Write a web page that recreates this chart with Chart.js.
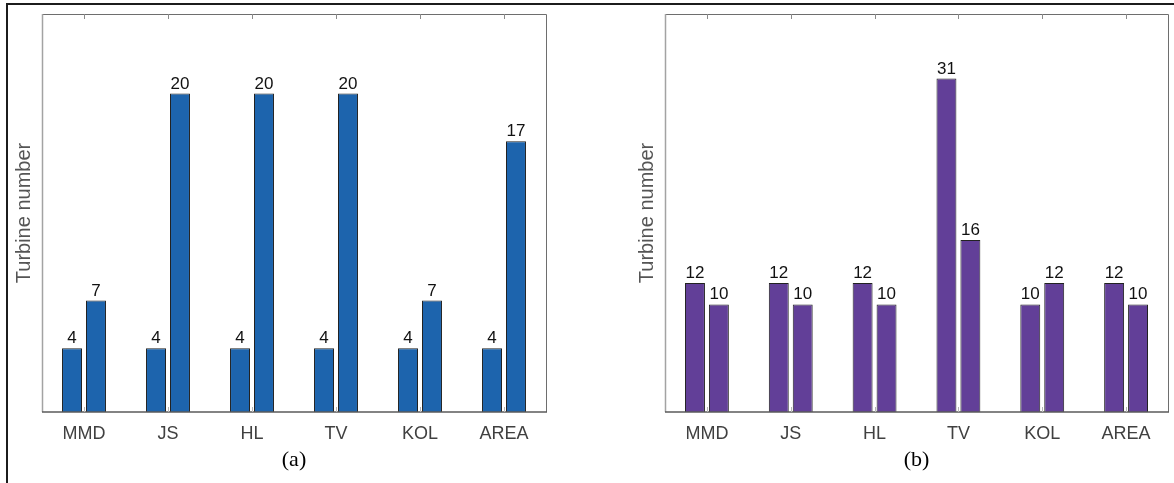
<!DOCTYPE html>
<html>
<head>
<meta charset="utf-8">
<script src="https://cdn.jsdelivr.net/npm/chart.js@4/dist/chart.umd.min.js"></script>
<style>
  html, body { margin: 0; padding: 0; background: #fff; }
  #wrap { position: relative; width: 1174px; height: 483px; overflow: hidden; background: #fff; }
  #frame { position: absolute; left: 6px; top: 3px; width: 1200px; height: 600px;
           border-left: 2px solid #1c1c1c; border-top: 2px solid #1c1c1c; }
  .panel { position: absolute; top: 0; height: 483px; }
  #pa { left: 0; width: 600px; }
  #pb { left: 600px; width: 574px; }
</style>
</head>
<body>
<div id="wrap">
  <div id="frame"></div>
  <div class="panel" id="pa"><canvas id="ca"></canvas></div>
  <div class="panel" id="pb"><canvas id="cb"></canvas></div>
</div>
<script>
// Divergence measures compared in both panels
const categories = ['MMD', 'JS', 'HL', 'TV', 'KOL', 'AREA'];

// Panel (a): turbine counts
const aFirst  = [4, 4, 4, 4, 4, 4];
const aSecond = [7, 20, 20, 20, 7, 17];

// Panel (b): turbine counts
const bFirst  = [12, 12, 12, 31, 10, 12];
const bSecond = [10, 10, 10, 16, 12, 10];

const yTitle = 'Turbine number';

// Box frame, category ticks and value labels drawn on top of the bars
const framePlugin = {
  id: 'frame',
  afterDatasetsDraw(chart) {
    const { ctx, chartArea: a, scales } = chart;
    ctx.save();
    // value labels
    ctx.font = '17px "Liberation Sans", Arial, sans-serif';
    ctx.fillStyle = '#111';
    ctx.textAlign = 'center';
    ctx.textBaseline = 'alphabetic';
    chart.data.datasets.forEach((ds, i) => {
      chart.getDatasetMeta(i).data.forEach((bar, j) => {
        ctx.fillText(String(ds.data[j]), bar.x, bar.y - 5);
      });
    });
    // top and right edges
    ctx.strokeStyle = '#6e6e6e';
    ctx.lineWidth = 1;
    ctx.beginPath();
    ctx.moveTo(a.left, a.top + 0.5); ctx.lineTo(a.right + 0.5, a.top + 0.5);
    ctx.lineTo(a.right + 0.5, a.bottom);
    ctx.stroke();
    // left edge
    ctx.strokeStyle = '#a3a3a3';
    ctx.lineWidth = 1.5;
    ctx.beginPath();
    ctx.moveTo(a.left + 0.5, a.top); ctx.lineTo(a.left + 0.5, a.bottom);
    ctx.stroke();
    // bottom edge
    ctx.strokeStyle = '#5a5a5a';
    ctx.lineWidth = 1.6;
    ctx.beginPath();
    ctx.moveTo(a.left, a.bottom); ctx.lineTo(a.right + 1, a.bottom);
    ctx.stroke();
    // category ticks (top pointing down, bottom pointing up)
    const xs = scales.x;
    ctx.lineWidth = 1;
    categories.forEach((c, i) => {
      const x = Math.round(xs.getPixelForTick(i)) + 0.5;
      ctx.strokeStyle = '#8a8a8a';
      ctx.beginPath(); ctx.moveTo(x, a.top); ctx.lineTo(x, a.top + 5); ctx.stroke();
      ctx.strokeStyle = '#b5b5b5';
      ctx.beginPath(); ctx.moveTo(x, a.bottom); ctx.lineTo(x, a.bottom - 5); ctx.stroke();
    });
    ctx.restore();
  }
};

function makeChart(id, first, second, color, yMax, left, right, label) {
  const canvas = document.getElementById(id);
  const w = canvas.parentNode.clientWidth;
  return new Chart(canvas, {
    type: 'bar',
    data: {
      labels: categories,
      datasets: [
        { data: first,  backgroundColor: color, borderColor: '#222', borderWidth: 1,
          categoryPercentage: 0.571, barPercentage: 0.833 },
        { data: second, backgroundColor: color, borderColor: '#222', borderWidth: 1,
          categoryPercentage: 0.571, barPercentage: 0.833 }
      ]
    },
    options: {
      responsive: true,
      maintainAspectRatio: false,
      animation: false,
      devicePixelRatio: 1,
      layout: { padding: { left: 0, top: 14, right: w - right, bottom: 0 } },
      plugins: { legend: { display: false }, tooltip: { enabled: false } },
      scales: {
        x: {
          grid: { display: false, drawTicks: false },
          border: { display: false },
          ticks: { color: '#404040', padding: 11,
                   font: { family: '"Liberation Sans", Arial, sans-serif', size: 18 } },
          title: { display: true, text: label, color: '#000',
                   padding: { top: 0, bottom: 10 },
                   font: { family: '"Liberation Serif", "Times New Roman", serif', size: 22 } },
          afterFit(s) { s.height = 71; }
        },
        y: {
          min: 0, max: yMax,
          grid: { display: false, drawTicks: false },
          border: { display: false },
          ticks: { display: false },
          title: { display: true, text: yTitle, color: '#555',
                   padding: { top: left - 30, bottom: 0 },
                   font: { family: '"Liberation Sans", Arial, sans-serif', size: 20 } },
          afterFit(s) { s.width = left; }
        }
      }
    },
    plugins: [framePlugin]
  });
}

makeChart('ca', aFirst, aSecond, '#1d64ad', 25, 42, 546, '(a)');
makeChart('cb', bFirst, bSecond, '#623f98', 37, 65, 568, '(b)');
</script>
</body>
</html>
